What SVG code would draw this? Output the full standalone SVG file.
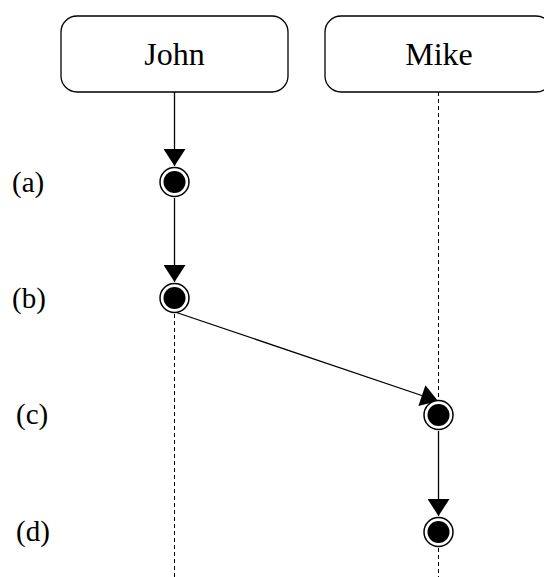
<svg xmlns="http://www.w3.org/2000/svg" width="544" height="577" viewBox="0 0 544 577">
<defs>
<style>
.box{fill:#fff;stroke:#000;stroke-width:1.3}
.t{font-family:"Liberation Serif","DejaVu Serif",serif;font-size:32px;fill:#000}
.lab{font-family:"Liberation Serif","DejaVu Serif",serif;font-size:29px;fill:#000}
.solid{stroke:#000;stroke-width:1.3;fill:none}
.dash{stroke:#000;stroke-width:1;stroke-dasharray:4 3;fill:none}
.ring{fill:#fff;stroke:#000;stroke-width:1.5}
</style>
<marker id="ah" markerUnits="userSpaceOnUse" markerWidth="18" markerHeight="22" refX="17" refY="11" orient="auto" viewBox="0 0 17 22">
<path d="M0,0 L17,11 L0,22 z" fill="#000"/>
</marker>
</defs>
<g id="connectors">
<line class="dash" x1="174.5" y1="314" x2="174.5" y2="577"/>
<line class="dash" x1="438.5" y1="92" x2="438.5" y2="399"/>
<line class="dash" x1="438.5" y1="548" x2="438.5" y2="577"/>
<line class="solid" x1="174.5" y1="92" x2="174.5" y2="166" marker-end="url(#ah)"/>
<line class="solid" x1="174.5" y1="198" x2="174.5" y2="282" marker-end="url(#ah)"/>
<line class="solid" x1="175" y1="312" x2="438" y2="401" marker-end="url(#ah)"/>
<line class="solid" x1="438.5" y1="431" x2="438.5" y2="516" marker-end="url(#ah)"/>
</g>
<g id="john">
<rect class="box" x="61" y="16" width="227" height="76" rx="16" ry="16"/>
<text class="t" x="174.5" y="65" text-anchor="middle">John</text>
</g>
<g id="mike">
<rect class="box" x="325" y="16" width="227" height="76" rx="16" ry="16"/>
<text class="t" x="439" y="65" text-anchor="middle">Mike</text>
</g>
<g id="a">
<circle class="ring" cx="174.5" cy="182" r="14.5"/>
<circle cx="174.5" cy="182" r="11" fill="#000"/>
<text class="lab" x="12" y="192">(a)</text>
</g>
<g id="b">
<circle class="ring" cx="174.5" cy="298" r="14.5"/>
<circle cx="174.5" cy="298" r="11" fill="#000"/>
<text class="lab" x="12" y="308">(b)</text>
</g>
<g id="c">
<circle class="ring" cx="438.5" cy="415" r="14.5"/>
<circle cx="438.5" cy="415" r="11" fill="#000"/>
<text class="lab" x="16" y="424">(c)</text>
</g>
<g id="d">
<circle class="ring" cx="438.5" cy="532" r="14.5"/>
<circle cx="438.5" cy="532" r="11" fill="#000"/>
<text class="lab" x="16" y="541">(d)</text>
</g>
</svg>
